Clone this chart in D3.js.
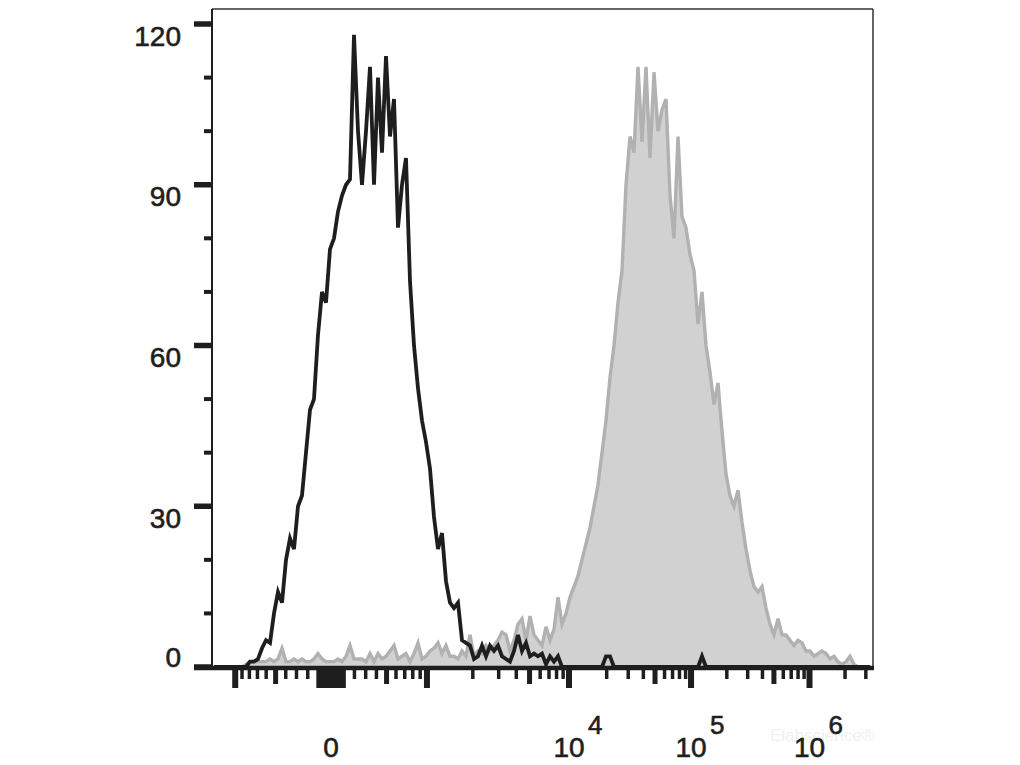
<!DOCTYPE html>
<html><head><meta charset="utf-8">
<script src="https://cdn.jsdelivr.net/npm/d3@7"></script>
<style>html,body{margin:0;padding:0;background:#fff;} svg{display:block;}</style>
</head><body>
<svg id="chart" width="1020" height="765"></svg>
<script>
// ---- data (counts per display channel, 165 channels across the axis) ----
const blackCounts = [
  0,0,0,0,0,0,0,0,0,1, 1,1.5,3.5,5,4.5,10,14,12,20,24,
  22,30,32,40,48,50,62,70,68,78, 80,85,88,90,91,118,100,90,100,112,
  90,110,96,114,99,106,82,90,95,72, 60,52,46,42,37,28,22,25,16,12,
  11,12,5,4.5,4,1.5,2,4,2,4, 3,4,2,1.5,1,3,6,3,4.5,2,
  2.5,2,2.5,0.5,2,1,2,0,0,0, 0,0,0,0,0,0,0,0,2,2,
  0,0,0,0,0,0,0,0,0,0, 0,0,0,0,0,0,0,0,0,0,
  0,0,2,0,0,0,0,0,0,0, 0,0,0,0,0,0,0,0,0,0,
  0,0,0,0,0,0,0,0,0,0, 0,0,0,0,0,0,0,0,0,0,
  0,0,0,0,0
];
const greyCounts = [
  0,0,0,0,0,0,0,0,0.5,1, 1,1,1,1,1.5,1,1.5,3.5,1,1,
  1.5,1,1.5,1,1,1.5,2.5,1.5,1,1, 1,1.5,1,2,4,1.5,1.5,1.5,1,2.5,
  1,2.5,1.5,2,3,4,1.5,2,2.5,1, 2.5,4.5,1.5,2,3,3.5,4.5,2.5,4,2,
  2,1.5,3,2,6,2,3,2.5,4,3, 4,5,6.5,6,3,5,8,9,5,9.5,
  6,5,4,7.5,5,7,13,8,10,13, 15,17,20,23,26,30,34,40,46,54,
  60,68,74,90,99,96,112,98,112,95, 111,100,104,106,88,80,99,84,82,77,
  74,64,70,60,55,49,53,44,36,32, 30,33,27,22,18,15,14,15,11,8,
  6,9,6,6,5,4,5,4.5,3,3, 2,2.5,3,2.5,1.5,2,1,0.5,1,2,
  0.5,0,0,0,0
];
const channelCount = 165;

const yTickValues  = [0, 30, 60, 90, 120];
const yMinorValues = [10, 20, 40, 50, 70, 80, 100, 110];
const yDomain = [0, 120];

const xDomain = [-1420, 3450000];
const xMajorTicks  = [-1000, 0, 1000, 10000, 100000, 1000000];
const xZeroTicks   = [-100, -75, -50, -25, 25, 50, 75, 100];
const xMediumTicks = [-500, 500, 5000, 50000, 500000];
const xMinorTicks  = [-900, -800, -700, -600, -400, -300, -200,
                      200, 300, 400, 600, 700, 800, 900,
                      2000, 3000, 4000, 6000, 7000, 8000, 9000,
                      20000, 30000, 40000, 60000, 70000, 80000, 90000,
                      200000, 300000, 400000, 600000, 700000, 800000, 900000,
                      2000000, 3000000];
const xLabelValues = [0, 10000, 100000, 1000000];
const xLabelBases  = ["0", "10", "10", "10"];
const xLabelExps   = ["", "4", "5", "6"];

// ---- logicle-style display transform ----
const LK = 88, LP = 3.94;
function S(z) { const a = Math.abs(z); const v = LK * (Math.pow(10, a) - LP*LP*Math.pow(10, -a/LP) + LP*LP - 1); return z < 0 ? -v : v; }
function T(x) { let lo = -4, hi = 9; for (let i = 0; i < 90; i++) { const m = (lo + hi) / 2; if (S(m) < x) lo = m; else hi = m; } return (lo + hi) / 2; }

// ---- layout ----
const L = 212, R = 873, TOP = 9, B = 667;
const svg = d3.select("#chart");
const xScale = d3.scaleLinear().domain(xDomain.map(T)).range([L, R]);
const chScale = d3.scaleLinear().domain([0, channelCount]).range([L, R - 1]);
const yScale = d3.scaleLinear().domain(yDomain).range([B, 24]);
const xp = v => xScale(T(v));
const FONT = "'Liberation Sans', Arial, Helvetica, sans-serif";
const INK = "#1e1e1e";

// grey filled histogram
const area = d3.area().x((d, i) => chScale(i + 0.5)).y0(yScale(0)).y1(d => yScale(d));
const line = d3.line().x((d, i) => chScale(i + 0.5)).y(d => yScale(d));
svg.append("path").datum(greyCounts).attr("d", area).attr("fill", "#d1d1d1");
svg.append("path").datum(greyCounts).attr("d", line).attr("fill", "none")
   .attr("stroke", "#b1b1b1").attr("stroke-width", 3.4).attr("stroke-linejoin", "miter");
// black open histogram
svg.append("path").datum(blackCounts).attr("d", line).attr("fill", "none")
   .attr("stroke", INK).attr("stroke-width", 3.8).attr("stroke-linejoin", "miter");

// frame
svg.append("line").attr("x1", L).attr("x2", R).attr("y1", TOP).attr("y2", TOP).attr("stroke", "#333").attr("stroke-width", 1.5);
svg.append("line").attr("x1", R).attr("x2", R).attr("y1", TOP).attr("y2", B).attr("stroke", "#333").attr("stroke-width", 1.5);
svg.append("line").attr("x1", L).attr("x2", L).attr("y1", TOP).attr("y2", B + 2).attr("stroke", INK).attr("stroke-width", 2);
svg.append("line").attr("x1", 194).attr("x2", R + 1).attr("y1", B + 1).attr("y2", B + 1).attr("stroke", INK).attr("stroke-width", 4.5);

// y ticks
svg.append("g").selectAll("line").data(yTickValues).join("line")
  .attr("x1", 194).attr("x2", L).attr("y1", d => yScale(d)).attr("y2", d => yScale(d))
  .attr("stroke", INK).attr("stroke-width", 5.5);
svg.append("g").selectAll("line").data(yMinorValues).join("line")
  .attr("x1", 204).attr("x2", L).attr("y1", d => yScale(d)).attr("y2", d => yScale(d))
  .attr("stroke", INK).attr("stroke-width", 4);
svg.append("g").selectAll("text").data(yTickValues).join("text")
  .attr("x", 181).attr("y", d => Math.min(yScale(d) + 12, yScale(0) - 10))
  .attr("text-anchor", "end").attr("dominant-baseline", "central")
  .attr("font-family", FONT).attr("font-size", 28).attr("fill", INK)
  .attr("stroke", INK).attr("stroke-width", 0.6).text(d => d);

// x ticks
function xTicks(vals, len, w) {
  svg.append("g").selectAll("line").data(vals).join("line")
    .attr("x1", d => xp(d)).attr("x2", d => xp(d)).attr("y1", B + 2).attr("y2", B + 2 + len)
    .attr("stroke", INK).attr("stroke-width", w);
}
xTicks(xMinorTicks, 10, 3.5);
xTicks(xMediumTicks, 15, 5);
xTicks(xZeroTicks, 19, 6);
xTicks(xMajorTicks, 19, 6);

// faint watermark (under the labels)
svg.append("text").attr("x", 770).attr("y", 741).attr("font-family", FONT).attr("font-size", 17)
  .attr("fill", "#f1f1f1").text("Elabscience®");

// x labels
const lab = svg.append("g");
lab.selectAll("text.base").data(xLabelValues).join("text").attr("class", "base")
  .attr("x", d => xp(d)).attr("y", 757).attr("text-anchor", "middle")
  .attr("font-family", FONT).attr("font-size", 28).attr("fill", INK)
  .attr("stroke", INK).attr("stroke-width", 0.6)
  .text((d, i) => xLabelBases[i]);
lab.selectAll("text.exp").data(xLabelValues).join("text").attr("class", "exp")
  .attr("x", d => xp(d) + 19).attr("y", 734).attr("text-anchor", "start")
  .attr("font-family", FONT).attr("font-size", 26).attr("fill", INK)
  .attr("stroke", INK).attr("stroke-width", 0.6)
  .text((d, i) => xLabelExps[i]);
</script>
</body></html>
